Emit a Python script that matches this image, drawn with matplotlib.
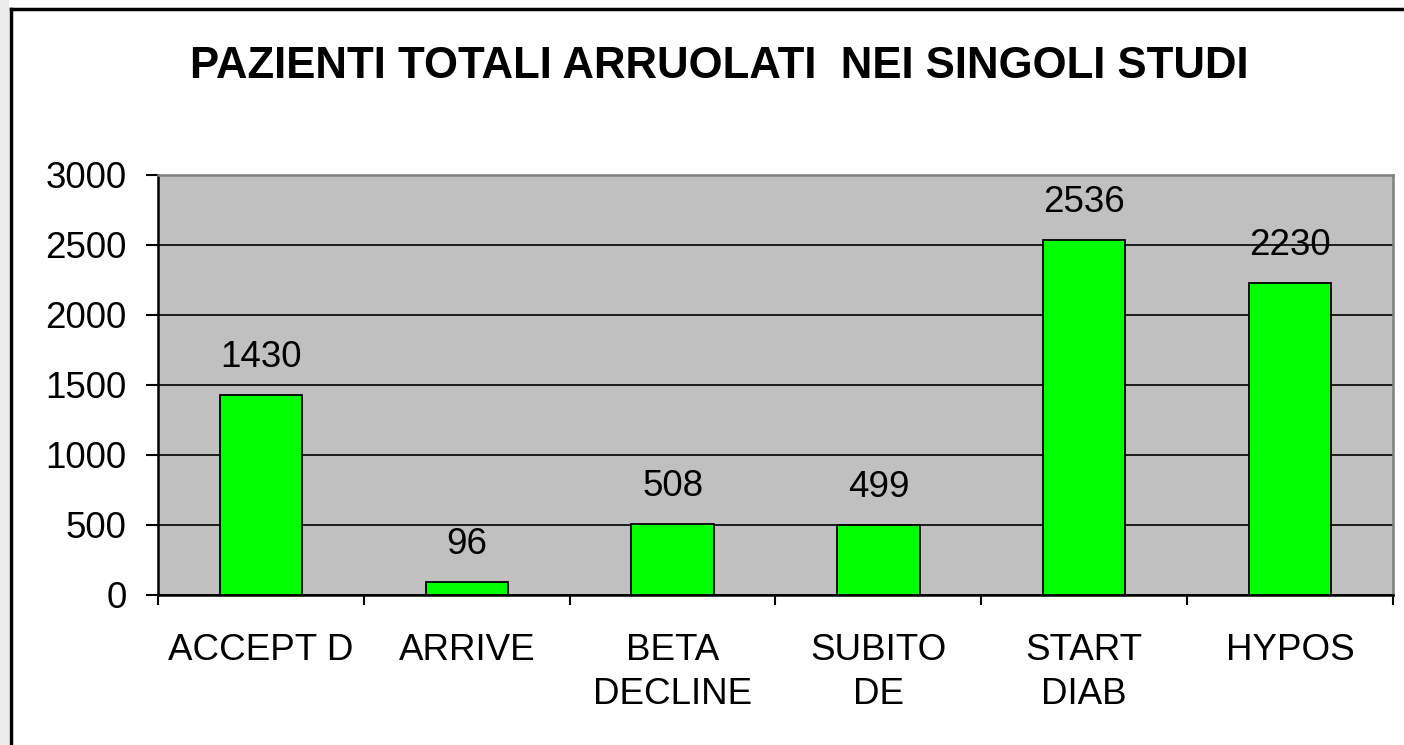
import numpy as np
import matplotlib
matplotlib.use("Agg")
import matplotlib.pyplot as plt
from matplotlib.lines import Line2D
from matplotlib.patches import Rectangle

# data
studies = ["ACCEPT D", "ARRIVE", "BETA\nDECLINE", "SUBITO\nDE", "START\nDIAB", "HYPOS"]
patients = [1430, 96, 508, 499, 2536, 2230]
y_ticks = [0, 500, 1000, 1500, 2000, 2500, 3000]
title = "PAZIENTI TOTALI ARRUOLATI  NEI SINGOLI STUDI"

plt.rcParams['font.family'] = ['Liberation Sans', 'DejaVu Sans']

fig = plt.figure(figsize=(14.04, 7.45), dpi=100)
ax = fig.add_axes([158 / 1404, 1 - 595 / 745, (1393 - 158) / 1404, (595 - 175) / 745])

# outer frame of the slide (left and top edges)
fig.add_artist(Rectangle((0, 0), 9 / 1404, 1, transform=fig.transFigure,
                         facecolor="#ececec", edgecolor="none"))
fig.add_artist(Line2D([11 / 1404, 11 / 1404], [0, 1 - 9 / 745], transform=fig.transFigure,
                      color="black", lw=2.5))
fig.add_artist(Line2D([11 / 1404, 1], [1 - 9 / 745, 1 - 9 / 745], transform=fig.transFigure,
                      color="black", lw=2.5))

x = np.arange(len(studies))
ax.set_facecolor("#c0c0c0")
ax.bar(x, patients, width=0.4, color="#00ff00", edgecolor="black", linewidth=1.3, zorder=3)

for xi, v in zip(x, patients):
    ax.annotate(str(v), (xi, v), xytext=(0, 27), textcoords="offset points",
                ha="center", va="center", fontsize=26.5, zorder=4)

ax.set_xlim(-0.5, len(studies) - 0.5)
ax.set_ylim(0, 3000)
ax.set_yticks(y_ticks)
ax.yaxis.grid(True, color="black", lw=1.2, zorder=1)
ax.set_axisbelow(True)

# ticks at category boundaries, labels at centres
ax.set_xticks(np.arange(-0.5, len(studies), 1.0))
ax.set_xticklabels([])
ax.set_xticks(x, minor=True)
ax.set_xticklabels(studies, minor=True, fontsize=26.5, linespacing=1.35)
ax.tick_params(axis="x", which="major", direction="out", length=7.5, width=1.5)
ax.tick_params(axis="x", which="minor", length=0, pad=27)
ax.tick_params(axis="y", direction="out", length=8.5, width=1.5, pad=14, labelsize=26.5)

for s in ["left", "bottom"]:
    ax.spines[s].set_color("black")
    ax.spines[s].set_linewidth(1.8)
for s in ["top", "right"]:
    ax.spines[s].set_color("#808080")
    ax.spines[s].set_linewidth(1.8)

fig.text(719 / 1404, 1 - 66 / 745, title, ha="center", va="center",
         fontsize=31.5, fontweight="bold")

fig.savefig("out.png", dpi=100)
